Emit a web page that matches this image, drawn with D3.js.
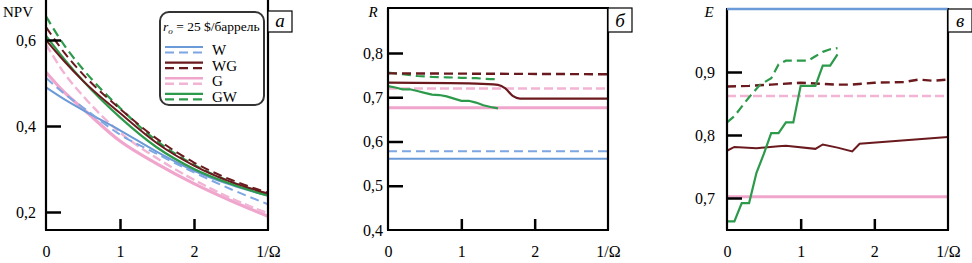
<!DOCTYPE html>
<html><head><meta charset="utf-8">
<script src="https://cdn.jsdelivr.net/npm/d3@7"></script>
<style>html,body{margin:0;padding:0;background:#fff}svg{display:block}
svg text{font-family:"Liberation Serif","Times New Roman",serif !important}</style>
</head><body>
<svg id="c" width="972" height="263"></svg>
<script>
// ---- shared ticks ----
const xTickValues = [0, 1, 2, 3];
const xTickLabels = ["0", "1", "2", "1/Ω"];

// ---- panel a: NPV ----
const npvX   = [0, 0.25, 0.5, 1, 1.5, 2, 2.5, 3];
const npvW   = [0.490, 0.462, 0.437, 0.390, 0.340, 0.296, 0.263, 0.238];
const npvWd  = [0.512, 0.475, 0.443, 0.380, 0.335, 0.292, 0.253, 0.218];
const npvWG  = [0.600, 0.550, 0.505, 0.430, 0.360, 0.308, 0.270, 0.243];
const npvWGd = [0.630, 0.570, 0.520, 0.440, 0.370, 0.315, 0.275, 0.245];
const npvG   = [0.525, 0.478, 0.440, 0.365, 0.312, 0.266, 0.226, 0.190];
const npvGd  = [0.590, 0.522, 0.470, 0.385, 0.325, 0.275, 0.232, 0.197];
const npvGW  = [0.610, 0.555, 0.505, 0.420, 0.350, 0.300, 0.265, 0.238];
const npvGWd = [0.655, 0.587, 0.532, 0.442, 0.365, 0.310, 0.270, 0.242];
const npvYTicks = [0.2, 0.4, 0.6];

// ---- panel b: R ----
const rFullX = [0, 3];
const rW   = [0.561, 0.561];
const rWd  = [0.578, 0.578];
const rG   = [0.676, 0.676];
const rGd  = [0.720, 0.720];
const rWGd = [0.754, 0.752];
const rWGX = [0, 1.2, 1.5, 1.6, 1.7, 1.8, 3];
const rWG  = [0.733, 0.731, 0.728, 0.720, 0.703, 0.697, 0.697];
const rGWX = [0, 0.1, 0.2, 0.3, 0.4, 0.5, 0.6, 0.7, 0.8, 0.9, 1.0, 1.1, 1.2, 1.3, 1.4, 1.5];
const rGW  = [0.725, 0.722, 0.718, 0.718, 0.714, 0.710, 0.706, 0.705, 0.702, 0.697, 0.692, 0.692, 0.688, 0.682, 0.678, 0.675];
const rGWdX = [0, 0.2, 0.4, 0.6, 0.8, 1.0, 1.2, 1.4, 1.5];
const rGWd  = [0.756, 0.752, 0.748, 0.746, 0.745, 0.744, 0.743, 0.741, 0.741];
const rYTicks = [0.4, 0.5, 0.6, 0.7, 0.8];

// ---- panel c: E ----
const eFullX = [0, 3];
const eW   = [1.0, 1.0];
const eG   = [0.702, 0.702];
const eGd  = [0.862, 0.862];
const eWGdX = [0, 0.3, 0.6, 1.0, 1.3, 1.5, 1.7, 2.0, 2.4, 2.6, 2.8, 3];
const eWGd  = [0.877, 0.878, 0.880, 0.883, 0.881, 0.880, 0.880, 0.883, 0.884, 0.888, 0.886, 0.888];
const eWGX = [0, 0.1, 0.4, 0.7, 0.8, 1.2, 1.3, 1.5, 1.7, 1.8, 3];
const eWG  = [0.775, 0.781, 0.779, 0.782, 0.783, 0.778, 0.785, 0.780, 0.774, 0.786, 0.797];
const eGWX = [0, 0.1, 0.2, 0.3, 0.4, 0.5, 0.6, 0.7, 0.8, 0.9, 1.0, 1.1, 1.2, 1.3, 1.4, 1.5];
const eGW  = [0.663, 0.663, 0.692, 0.692, 0.740, 0.770, 0.803, 0.803, 0.820, 0.820, 0.878, 0.878, 0.878, 0.910, 0.910, 0.928];
const eGWdX = [0, 0.1, 0.2, 0.3, 0.45, 0.6, 0.7, 0.8, 1.0, 1.1, 1.2, 1.3, 1.4, 1.5];
const eGWd  = [0.820, 0.830, 0.845, 0.860, 0.880, 0.890, 0.912, 0.918, 0.918, 0.918, 0.925, 0.932, 0.936, 0.938];
const eYTicks = [0.7, 0.8, 0.9];

const legendNames = ["W", "WG", "G", "GW"];
const panelLetters = ["а", "б", "в"];

// ---- styles ----
const col = {W: "#6b9ad8", Wd: "#7ea6e2", WG: "#6a1a1e", G: "#f0a6cc", Gd: "#f2b4d4", GW: "#2c9a4a"};
const serif = "Liberation Serif";

const svg = d3.select("#c");
svg.append("rect").attr("width", 972).attr("height", 263).attr("fill", "#fff");

function drawPanel(o) {
  const x = d3.scaleLinear().domain([0, 3]).range(o.xr);
  const y = d3.scaleLinear().domain(o.yd).range(o.yr);
  const g = svg.append("g");
  const line = (curve) => d3.line().x(d => x(d[0])).y(d => y(d[1])).curve(curve);

  o.series.forEach(s => {
    const pts = s.xs.map((xv, i) => [xv, s.ys[i]]);
    g.append("path").attr("d", line(s.curve || d3.curveLinear)(pts))
      .attr("fill", "none").attr("stroke", s.color).attr("stroke-width", s.w || 2)
      .attr("stroke-dasharray", s.dash || null);
  });

  const x0 = o.xr[0], x1 = o.xr[1];
  const fr = g.append("g").attr("stroke", "#000").attr("stroke-width", 2.2).attr("fill", "none");
  fr.append("line").attr("x1", x0).attr("x2", x0).attr("y1", o.top).attr("y2", 230);
  fr.append("line").attr("x1", x1).attr("x2", x1).attr("y1", o.top).attr("y2", 230);
  fr.append("line").attr("x1", x0 - 1).attr("x2", x1 + 1).attr("y1", 230).attr("y2", 230);
  if (o.drawTop) fr.append("line").attr("x1", x0 - 1).attr("x2", x1 + 1).attr("y1", o.top).attr("y2", o.top);
  if (o.topSeries) {
    const s = o.topSeries;
    g.append("path").attr("d", line(d3.curveLinear)(s.xs.map((xv, i) => [xv, s.ys[i]])))
      .attr("fill", "none").attr("stroke", s.color).attr("stroke-width", 2.4);
  }

  const xa = g.append("g").attr("transform", "translate(0,230)")
    .call(d3.axisBottom(x).tickValues(xTickValues)
      .tickFormat((d, i) => xTickLabels[i]).tickSizeInner(-11).tickSizeOuter(0).tickPadding(16));
  xa.attr("font-family", null).attr("font-size", null);
  xa.select(".domain").remove();
  xa.selectAll(".tick line").attr("stroke", "#000").attr("stroke-width", 2.5)
    .filter(d => d === 0 || d === 3).remove();
  xa.selectAll("text").style("font-family", serif).attr("font-size", 16).attr("fill", "#000");

  const ya = g.append("g").attr("transform", `translate(${x0},0)`)
    .call(d3.axisLeft(y).tickValues(o.yTicks)
      .tickFormat(d => d3.format(".1f")(d).replace(".", ",")).tickSizeInner(-15).tickSizeOuter(0).tickPadding(o.pad));
  ya.attr("font-family", null).attr("font-size", null);
  ya.select(".domain").remove();
  ya.selectAll(".tick line").attr("stroke", "#000").attr("stroke-width", 2.5)
    .filter(d => Math.abs(y(d) - 230) < 2).remove();
  ya.selectAll("text").style("font-family", serif).attr("font-size", 16).attr("fill", "#000");

  g.append("text").attr("x", o.title.x).attr("y", 17).style("font-family", serif)
    .attr("font-size", 15).attr("font-style", o.title.italic ? "italic" : "normal")
    .attr("text-anchor", "middle").text(o.title.t);

  g.append("rect").attr("x", x1).attr("y", o.boxY).attr("width", 24).attr("height", 32 - o.boxY)
    .attr("fill", "#fff").attr("stroke", "#000").attr("stroke-width", 1.2);
  g.append("text").attr("x", x1 + 12).attr("y", 27).attr("text-anchor", "middle")
    .style("font-family", serif).attr("font-style", "italic").attr("font-size", 19).text(o.letter);
  return {x, y, g};
}

drawPanel({
  xr: [46, 268], yd: [0.2, 0.6], yr: [212, 40], top: 0, drawTop: false, yTicks: npvYTicks, pad: 10,
  title: {t: "NPV", x: 18, italic: false}, letter: panelLetters[0], boxY: 11,
  series: [
    {xs: npvX, ys: npvG,   color: col.G,  w: 3.2, curve: d3.curveMonotoneX},
    {xs: npvX, ys: npvGd,  color: col.Gd, w: 2.4, dash: "9,4", curve: d3.curveMonotoneX},
    {xs: npvX, ys: npvW,   color: col.W,  w: 2, curve: d3.curveMonotoneX},
    {xs: npvX, ys: npvWd,  color: col.Wd, w: 2, dash: "9,5", curve: d3.curveMonotoneX},
    {xs: npvX, ys: npvGW,  color: col.GW, w: 2.2, curve: d3.curveMonotoneX},
    {xs: npvX, ys: npvGWd, color: col.GW, w: 2.2, dash: "9,5", curve: d3.curveMonotoneX},
    {xs: npvX, ys: npvWG,  color: col.WG, w: 2, curve: d3.curveMonotoneX},
    {xs: npvX, ys: npvWGd, color: col.WG, w: 2, dash: "9,5", curve: d3.curveMonotoneX}
  ]
});

(function () {
  const lg = svg.append("g");
  lg.append("rect").attr("x", 160).attr("y", 12).attr("width", 104).attr("height", 93).attr("rx", 9)
    .attr("fill", "#fff").attr("stroke", "#333").attr("stroke-width", 2);
  const t = lg.append("text").attr("x", 163).attr("y", 31).style("font-family", serif).attr("font-size", 13.5);
  t.append("tspan").attr("font-style", "italic").text("r");
  t.append("tspan").attr("font-style", "italic").attr("font-size", 9).attr("dy", 3).text("o");
  t.append("tspan").attr("dy", -3).text(" = 25 $/баррель");
  const rows = [
    {n: legendNames[0], c: col.W,  cd: col.Wd, w: 2},
    {n: legendNames[1], c: col.WG, cd: col.WG, w: 2.2},
    {n: legendNames[2], c: col.G,  cd: col.Gd, w: 2.4},
    {n: legendNames[3], c: col.GW, cd: col.GW, w: 2.2}
  ];
  rows.forEach((r, i) => {
    const yy = 47 + i * 15.6;
    lg.append("line").attr("x1", 165).attr("x2", 203).attr("y1", yy).attr("y2", yy)
      .attr("stroke", r.c).attr("stroke-width", r.w);
    lg.append("line").attr("x1", 165).attr("x2", 203).attr("y1", yy + 5.5).attr("y2", yy + 5.5)
      .attr("stroke", r.cd).attr("stroke-width", r.w).attr("stroke-dasharray", "9,5");
    lg.append("text").attr("x", 212).attr("y", yy + 8).style("font-family", serif).attr("font-size", 15).text(r.n);
  });
})();

drawPanel({
  xr: [388, 608], yd: [0.4, 0.8], yr: [230, 53], top: 8, drawTop: true, yTicks: rYTicks, pad: 5,
  title: {t: "R", x: 373, italic: true}, letter: panelLetters[1], boxY: 8,
  series: [
    {xs: rFullX, ys: rW,   color: col.W,  w: 2},
    {xs: rFullX, ys: rWd,  color: col.Wd, w: 2, dash: "9,5"},
    {xs: rFullX, ys: rG,   color: col.G,  w: 3},
    {xs: rFullX, ys: rGd,  color: col.Gd, w: 2.5, dash: "9,4"},
    {xs: rGWdX,  ys: rGWd, color: col.GW, w: 2.2, dash: "9,5"},
    {xs: rFullX, ys: rWGd, color: col.WG, w: 2.4, dash: "9,5"},
    {xs: rGWX,   ys: rGW,  color: col.GW, w: 2.2},
    {xs: rWGX,   ys: rWG,  color: col.WG, w: 2.2, curve: d3.curveMonotoneX}
  ]
});

drawPanel({
  xr: [727, 948], yd: [0.7, 0.9], yr: [198, 72], top: 9, drawTop: true, yTicks: eYTicks, pad: 12,
  title: {t: "E", x: 709, italic: true}, letter: panelLetters[2], boxY: 9,
  topSeries: {xs: eFullX, ys: eW, color: col.W},
  series: [
    {xs: eFullX, ys: eG,   color: col.G,  w: 3},
    {xs: eFullX, ys: eGd,  color: col.Gd, w: 2.5, dash: "9,4"},
    {xs: eWGdX,  ys: eWGd, color: col.WG, w: 2.4, dash: "9,5"},
    {xs: eWGX,   ys: eWG,  color: col.WG, w: 2},
    {xs: eGWdX,  ys: eGWd, color: col.GW, w: 2.2, dash: "9,5"},
    {xs: eGWX,   ys: eGW,  color: col.GW, w: 2.2}
  ]
});
</script>
</body></html>
